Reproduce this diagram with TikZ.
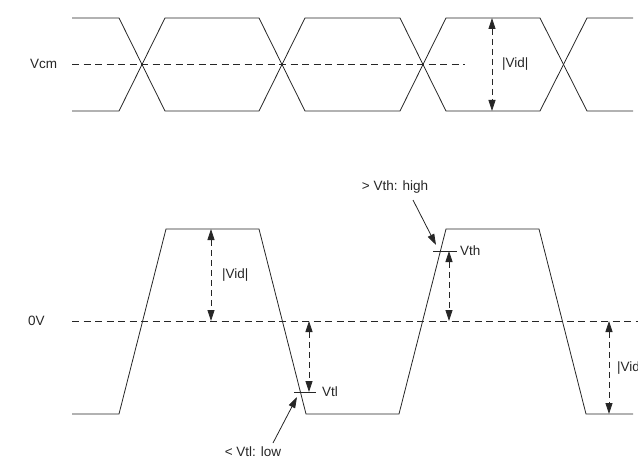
\documentclass[tikz,border=0pt]{standalone}
\usepackage{fontspec}
\setmainfont{Liberation Sans}
\usetikzlibrary{arrows.meta}
\begin{document}
\begin{tikzpicture}[x=1pt,y=-1pt,
  wave/.style={line width=0.8pt,draw=black!85,line join=miter},
  refline/.style={line width=0.8pt,draw=black!85,dash pattern=on 7pt off 4.5pt},
  dim/.style={line width=0.8pt,draw=black!85,dash pattern=on 6pt off 4pt,{Triangle[length=11pt,width=7pt]}-{Triangle[length=11pt,width=7pt]}},
  callout/.style={line width=0.8pt,draw=black!85,-{Triangle[length=11pt,width=7pt]}},
  tick/.style={line width=0.8pt,draw=black!85},
  lbl/.style={inner sep=0pt,font=\fontsize{13.5}{15}\selectfont,text=black!85}]
\useasboundingbox (0,0) rectangle (638,460);
\clip (0,0) rectangle (638,460);
% ---------- top (differential) ----------
\coordinate (t0) at (72,18);
\coordinate (b0) at (72,111);
\draw[wave] (t0) -- (119,18) -- (165,111) -- (259,111) -- (305,18) -- (400,18) -- (446,111) -- (540,111) -- (587,18) -- (633,18);
\draw[wave] (b0) -- (119,111) -- (165,18) -- (259,18) -- (305,111) -- (400,111) -- (446,18) -- (540,18) -- (587,111) -- (633,111);
\coordinate (vcmA) at (72,64);
\coordinate (vcmB) at (465,64);
\draw[refline] (vcmA) -- (vcmB);
\node[lbl,anchor=west] (vcm) at (30,64) {Vcm};
\coordinate (vidTa) at (492,18);
\coordinate (vidTb) at (492,111);
\draw[dim] (vidTa) -- (vidTb);
\node[lbl,anchor=west] (vidT) at (502,64) {|Vid|};
% ---------- bottom (single ended) ----------
\coordinate (s0) at (72,414);
\draw[wave] (s0) -- (119,414) -- (166,229) -- (259,229) -- (306,414) -- (399,414) -- (446,229) -- (539,229) -- (586,414) -- (633,414);
\coordinate (zA) at (72,321);
\coordinate (zB) at (640,321);
\draw[refline] (zA) -- (zB);
\node[lbl,anchor=west] (zv) at (28,321) {0V};
% |Vid| left
\coordinate (v1a) at (211,229);
\coordinate (v1b) at (211,321);
\draw[dim] (v1a) -- (v1b);
\node[lbl,anchor=west] (vid1) at (222,275) {|Vid|};
% Vth
\coordinate (thA) at (433,251);
\coordinate (thB) at (457,251);
\draw[tick] (thA) -- (thB);
\node[lbl,anchor=west] (vth) at (460,251) {Vth};
\coordinate (tha1) at (449,251);
\coordinate (tha2) at (449,321);
\draw[dim] (tha1) -- (tha2);
% Vtl
\coordinate (tlA) at (294,392);
\coordinate (tlB) at (316,392);
\draw[tick] (tlA) -- (tlB);
\node[lbl,anchor=west] (vtl) at (322,392) {Vtl};
\coordinate (tla1) at (309,321);
\coordinate (tla2) at (309,392);
\draw[dim] (tla1) -- (tla2);
% |Vid| right
\coordinate (v2a) at (609,321);
\coordinate (v2b) at (609,414);
\draw[dim] (v2a) -- (v2b);
\node[lbl,anchor=west] (vid2) at (617,368) {|Vid|};
% callouts
\node[lbl] (high) at (395,187) {> Vth: high};
\coordinate (highTip) at (436,245);
\draw[callout] (413,200) -- (highTip);
\node[lbl] (low) at (253,452) {< Vtl: low};
\coordinate (lowTip) at (297,397);
\draw[callout] (273,443) -- (lowTip);
\end{tikzpicture}
\end{document}
